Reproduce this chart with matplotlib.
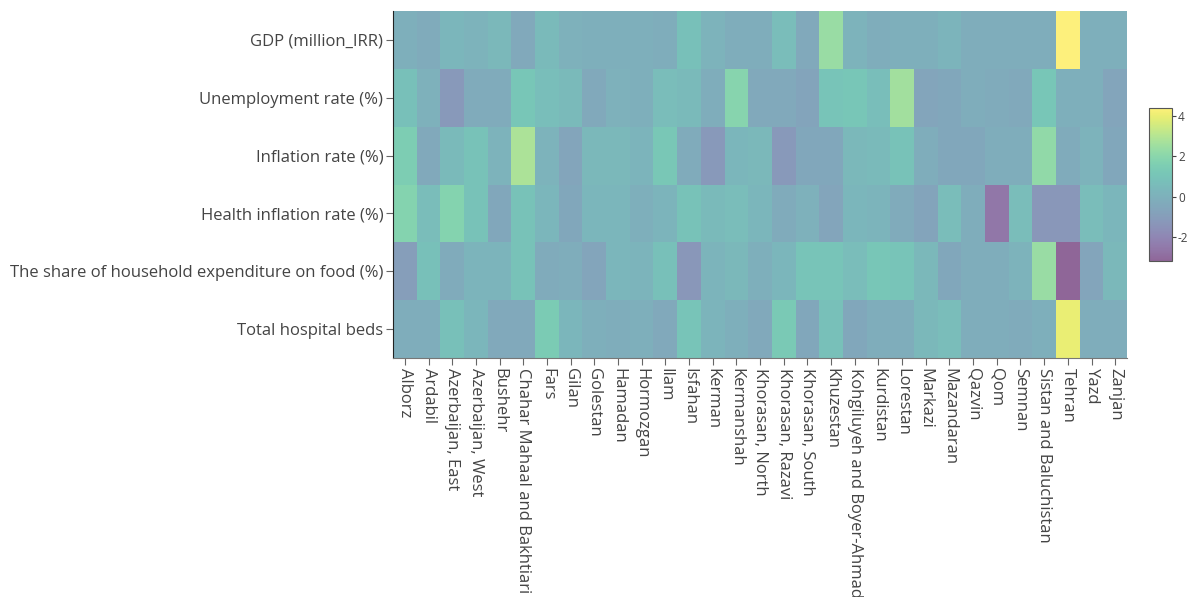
import numpy as np
import matplotlib.pyplot as plt

provinces = ["Alborz", "Ardabil", "Azerbaijan, East", "Azerbaijan, West", "Bushehr",
             "Chahar Mahaal and Bakhtiari", "Fars", "Gilan", "Golestan", "Hamadan",
             "Hormozgan", "Ilam", "Isfahan", "Kerman", "Kermanshah", "Khorasan, North",
             "Khorasan, Razavi", "Khorasan, South", "Khuzestan", "Kohgiluyeh and Boyer-Ahmad",
             "Kurdistan", "Lorestan", "Markazi", "Mazandaran", "Qazvin", "Qom", "Semnan",
             "Sistan and Baluchistan", "Tehran", "Yazd", "Zanjan"]

indicators = ["GDP (million_IRR)", "Unemployment rate (%)", "Inflation rate (%)",
              "Health inflation rate (%)", "The share of household expenditure on food (%)",
              "Total hospital beds"]

# standardized (z-score) values per indicator, one entry per province
gdp = [-0.1, -0.3, 0.3, 0.1, 0.4, -0.4, 0.5, 0.0, -0.1, -0.1, -0.1, -0.2, 0.8, 0.1, -0.2, -0.2,
       0.6, -0.4, 2.4, 0.1, -0.2, -0.1, -0.1, 0.2, -0.2, -0.2, -0.2, -0.2, 4.4, -0.1, -0.1]
unemployment = [0.8, 0.0, -1.2, -0.3, -0.3, 1.1, 0.7, 0.5, -0.4, 0.0, -0.1, 0.6, 0.5, -0.2, 1.9, -0.4,
                -0.4, -0.7, 1.0, 1.1, 0.7, 2.6, -0.6, -0.5, -0.2, -0.3, -0.4, 1.1, -0.1, -0.1, -0.6]
inflation = [1.5, -0.4, 0.5, 0.9, 0.1, 2.8, 0.1, -0.6, 0.4, 0.4, 0.2, 1.2, -0.3, -1.2, 0.3, 0.4,
             -1.2, -0.5, -0.5, 0.4, 0.5, 0.9, -0.2, -0.5, -0.5, -0.2, -0.2, 2.2, -0.3, 0.1, -0.5]
health_inflation = [1.8, 0.6, 1.8, 0.9, -0.5, 0.9, 0.3, -0.5, 0.3, 0.3, -0.1, 0.2, 0.9, 0.5, 0.6, 0.3,
                    -0.3, 0.0, -0.6, 0.3, 0.2, -0.3, -0.7, 0.6, -0.2, -2.6, 0.6, -1.3, -1.3, 0.6, 0.3]
food_share = [-1.0, 0.8, -0.3, 0.2, 0.2, 0.9, -0.3, -0.2, -0.6, 0.3, 0.2, 0.8, -1.3, 0.2, 0.4, -0.1,
              0.3, 1.0, 1.0, 0.6, 1.1, 1.0, 0.4, -0.5, -0.2, -0.2, 0.1, 2.4, -3.2, -0.6, 0.4]
hospital_beds = [-0.2, -0.2, 0.8, 0.3, -0.4, -0.4, 1.4, 0.3, -0.1, -0.2, -0.1, -0.4, 1.0, 0.2, -0.1, -0.4,
                 1.3, -0.5, 0.8, -0.5, -0.2, -0.2, 0.4, 0.6, -0.2, -0.2, -0.3, -0.1, 4.0, -0.2, -0.2]

z = np.array([gdp, unemployment, inflation, health_inflation, food_share, hospital_beds])

plt.rcParams['font.family'] = ['Open Sans', 'DejaVu Sans']
plt.rcParams['axes.unicode_minus'] = False
txt = '#444444'

fig = plt.figure(figsize=(11.92, 5.97), dpi=100)
ax = fig.add_axes([0.3297, 0.4003, 0.6158, 0.5813])
cax = fig.add_axes([0.9640, 0.5628, 0.019, 0.2563])

mesh = ax.pcolormesh(z, cmap='viridis', vmin=-3.2, vmax=4.4, alpha=0.6)
ax.set_xlim(0, len(provinces))
ax.set_ylim(len(indicators), 0)

ax.set_xticks(np.arange(len(provinces)) + 0.5)
ax.set_xticklabels(provinces, rotation=-90, fontsize=12, color=txt)
ax.set_yticks(np.arange(len(indicators)) + 0.5)
ax.set_yticklabels(indicators, fontsize=12, color=txt)
ax.tick_params(axis='both', length=5, width=0.8, color='#666666', pad=2)

for side in ['top', 'right']:
    ax.spines[side].set_visible(False)
ax.spines['left'].set_color('#222222')
ax.spines['bottom'].set_color('#777777')

cb = fig.colorbar(mesh, cax=cax, ticks=[-2, 0, 2, 4])
cb.outline.set_edgecolor('#555555')
cb.outline.set_linewidth(0.8)
cb.ax.tick_params(labelsize=8.5, colors=txt, length=3, width=0.8, pad=1.5)

fig.savefig('out.png', dpi=100)
